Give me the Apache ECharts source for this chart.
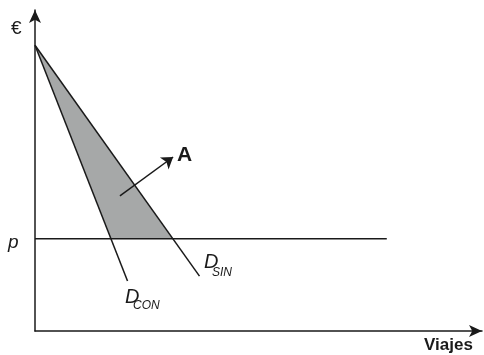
<!DOCTYPE html>
<html>
<head>
<meta charset="utf-8">
<script src="https://cdn.jsdelivr.net/npm/echarts@6/dist/echarts.min.js"></script>
<style>
  html, body { margin: 0; padding: 0; background: #fff; }
  #chart { width: 484px; height: 355px; }
</style>
</head>
<body>
<div id="chart"></div>
<script>
// data in chart units (x: viajes, y: euros), both axes 0..100
const topPoint = [0, 89];
const dConEnd = [20.7, 15.6];
const dSinEnd = [36.8, 17.1];
const priceP = 28.7;
const pLineEnd = 78.7;
const arrowA = [[19.0, 42.1], [30.9, 54.2]];

// x where a line from topPoint to end hits price p
function atPrice(end) {
  const t = (topPoint[1] - priceP) / (topPoint[1] - end[1]);
  return topPoint[0] + t * (end[0] - topPoint[0]);
}
const shade = [topPoint, [atPrice(dConEnd), priceP], [atPrice(dSinEnd), priceP]];

const ink = '#1a1a1a';
const font = 'Liberation Sans, Arial, sans-serif';

const chart = echarts.init(document.getElementById('chart'));

const axisCommon = {
  type: 'value', min: 0, max: 100,
  axisLabel: { show: false }, axisTick: { show: false }, splitLine: { show: false },
  axisLine: { show: true, onZero: false, symbol: ['none', 'arrow'], symbolSize: [9, 13],
    lineStyle: { color: ink, width: 1.5 } }
};

chart.setOption({
  animation: false,
  grid: { left: 35, right: 2, top: 10, bottom: 24 },
  xAxis: axisCommon,
  yAxis: axisCommon,
  series: [
    {
      type: 'custom',
      data: [[0, 0]],
      silent: true,
      z: 1,
      renderItem: function (params, api) {
        return {
          type: 'polygon',
          shape: { points: shade.map(p => api.coord(p)) },
          style: { fill: '#a6a8a8' }
        };
      }
    },
    {
      type: 'line', data: [[0, priceP], [pLineEnd, priceP]], symbol: 'none', z: 3,
      lineStyle: { color: ink, width: 1.5 }
    },
    {
      type: 'line', data: [topPoint, dConEnd], symbol: 'none', z: 3,
      lineStyle: { color: ink, width: 1.5 }
    },
    {
      type: 'line', data: [topPoint, dSinEnd], symbol: 'none', z: 3,
      lineStyle: { color: ink, width: 1.5 }
    },
    {
      type: 'lines', coordinateSystem: 'cartesian2d', z: 4,
      symbol: ['none', 'arrow'], symbolSize: 11,
      data: [{ coords: arrowA }],
      lineStyle: { color: ink, width: 1.5, opacity: 1 }
    }
  ],
  graphic: [
    { type: 'text', left: 11, top: 19, style: { text: '€', font: '19px ' + font, fill: ink } },
    { type: 'text', left: 8, top: 233, style: { text: 'p', font: 'italic 19px ' + font, fill: ink } },
    { type: 'text', left: 177, top: 145, style: { text: 'A', font: 'bold 21px ' + font, fill: ink } },
    { type: 'text', left: 204, top: 252, style: { text: 'D', font: 'italic 20px ' + font, fill: ink } },
    { type: 'text', left: 212, top: 267, style: { text: 'SIN', font: 'italic 12px ' + font, fill: ink } },
    { type: 'text', left: 125, top: 287, style: { text: 'D', font: 'italic 20px ' + font, fill: ink } },
    { type: 'text', left: 133, top: 300, style: { text: 'CON', font: 'italic 12px ' + font, fill: ink } },
    { type: 'text', left: 424, top: 337, style: { text: 'Viajes', font: 'bold 17px ' + font, fill: ink } }
  ]
});
</script>
</body>
</html>
